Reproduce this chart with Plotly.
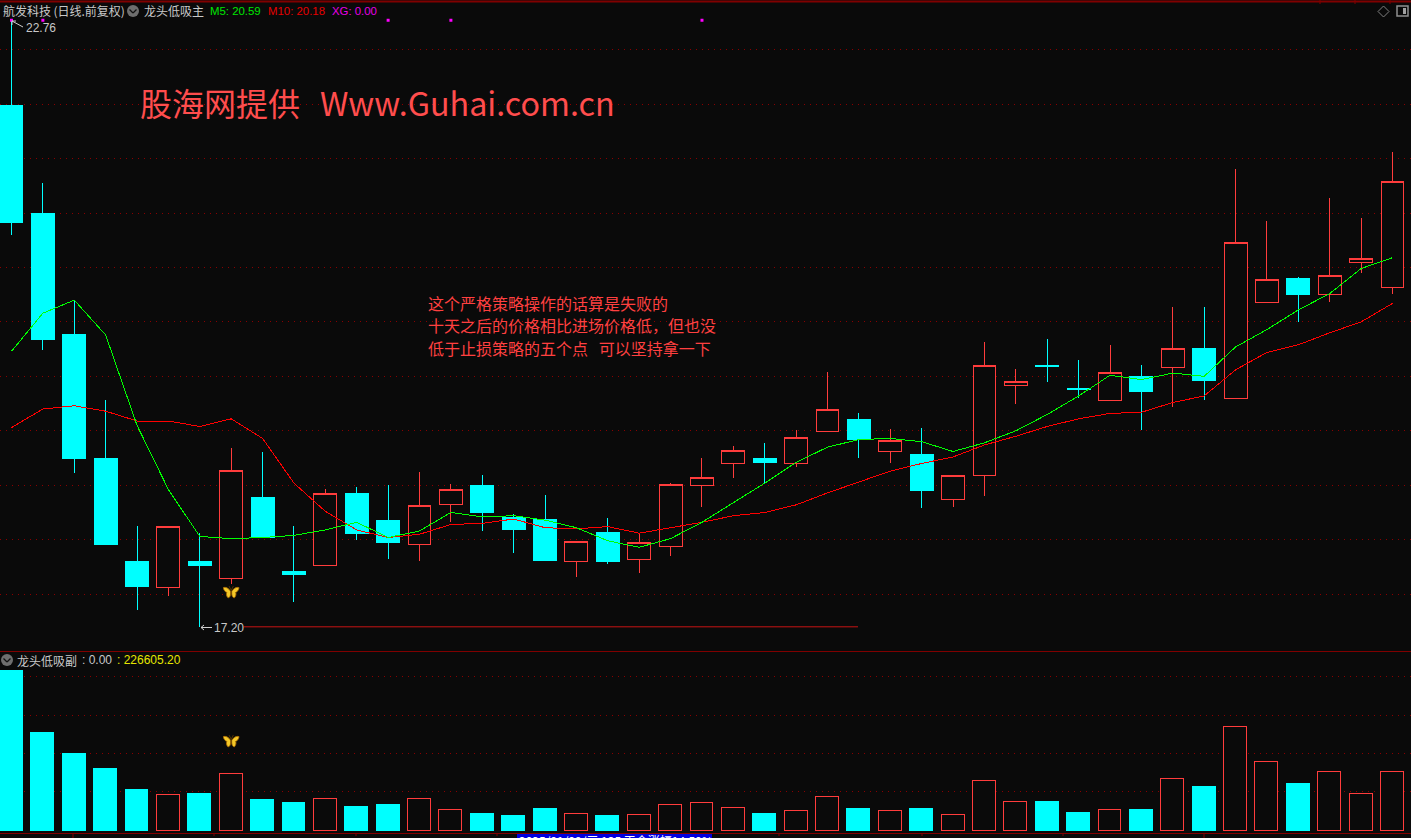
import base64
import plotly.graph_objects as go

# ---------- data ----------
opens = [21.99,21.00,19.88,18.75,17.80,17.56,17.80,17.64,18.39,17.71,17.76,18.42,18.18,17.96,18.32,18.50,18.20,18.19,17.80,18.07,17.82,17.94,18.50,18.70,18.75,18.70,18.99,19.10,18.81,18.78,18.37,18.59,19.42,19.60,19.39,19.28,19.50,19.58,19.76,19.30,20.18,20.40,20.25,20.55,20.32]
closes = [20.91,19.84,18.75,17.96,17.57,18.12,17.76,18.64,18.02,17.68,18.42,18.06,17.97,18.31,18.46,18.25,18.09,17.81,17.98,17.80,17.97,18.51,18.57,18.82,18.71,18.94,19.20,18.92,18.91,18.45,18.59,19.60,19.45,19.59,19.38,19.54,19.36,19.76,19.46,20.73,20.39,20.25,20.43,20.58,21.29]
highs = [22.76,21.28,20.20,19.28,18.13,18.12,18.06,18.84,18.81,18.13,18.47,18.48,18.50,18.62,18.51,18.59,18.24,18.41,17.99,18.20,18.06,18.52,18.75,18.86,18.89,19.01,19.54,19.16,19.02,19.03,18.59,19.82,19.57,19.84,19.65,19.79,19.60,20.14,20.14,21.40,20.93,20.41,21.14,20.95,21.56]
lows = [20.80,19.74,18.61,17.96,17.35,17.48,17.20,17.59,18.02,17.43,17.76,18.00,17.82,17.80,18.16,18.08,17.88,17.81,17.66,17.78,17.69,17.85,18.30,18.57,18.51,18.67,18.99,18.75,18.70,18.29,18.30,18.40,19.25,19.45,19.30,19.28,19.01,19.22,19.28,19.30,20.17,20.00,20.18,20.45,20.26]
ma5 = [19.73,20.08,20.20,19.88,19.05,18.46,18.03,18.01,18.02,18.04,18.09,18.16,18.02,18.08,18.25,18.21,18.22,18.18,18.11,17.99,17.93,18.01,18.16,18.34,18.52,18.71,18.85,18.92,18.93,18.90,18.81,18.89,19.00,19.15,19.32,19.51,19.47,19.53,19.50,19.77,19.93,20.11,20.26,20.49,20.59]
ma10 = [19.03,19.20,19.23,19.18,19.09,19.09,19.04,19.11,18.93,18.52,18.26,18.09,18.02,18.05,18.14,18.15,18.19,18.11,18.10,18.12,18.06,18.11,18.16,18.22,18.25,18.32,18.43,18.53,18.63,18.70,18.76,18.87,18.95,19.04,19.11,19.16,19.17,19.26,19.32,19.56,19.72,19.79,19.90,20.00,20.17]
volume_k = [614.6,376.4,295.8,238.1,157.5,138.3,142.1,218.9,119.1,107.5,122.9,92.2,99.9,122.9,80.7,65.3,57.6,84.5,65.3,57.6,61.5,99.9,107.5,88.3,65.3,76.8,130.6,84.5,76.8,84.5,61.5,192.0,111.4,111.4,69.1,80.7,80.7,199.7,169.0,399.5,265.0,180.5,226.6,142.1,226.6]
vol_up = [0,0,0,0,0,1,0,1,0,0,1,0,0,1,1,0,0,0,1,0,1,1,1,1,0,1,1,0,1,0,1,1,1,0,0,1,0,1,0,1,1,0,1,1,1]
xg_days = [0,1,12,14,22]
xg_level = 22.77
signal_day = 7
signal_price = 17.52
signal_vol = 345.7
price_grid = [22.5,22,21.5,21,20.5,20,19.5,19,18.5,18,17.5]
vol_grid = [150,296,442,592]
high_price = 22.76
low_price = 17.20
low_line_days = [7.38,26.97]
days = list(range(len(opens)))

BG = "#0a0a0a"
RED = "#ff3c3c"
CYAN = "#00ffff"
GRID = "#8a0000"
W, H = 1411, 838
CJK = "Noto Sans CJK SC"
NUM = "Liberation Sans"

BUTTERFLY = """<svg xmlns='http://www.w3.org/2000/svg' viewBox='0 0 32 28'>
<g stroke='#a86a00' stroke-width='1.6' fill='#f4c828'>
<path d='M15,13 C11,7 6,4 1,6 C2,11 5,14 8,15 C6,17 7,22 10,25 C13,25 15,21 15,17 Z'/>
<path d='M17,13 C21,7 26,4 31,6 C30,11 27,14 24,15 C26,17 25,22 22,25 C19,25 17,21 17,17 Z'/>
</g>
<path d='M16,11 L16,20 M16,11 L12,3 M16,11 L20,3' stroke='#6a4300' stroke-width='1.4' fill='none'/>
</svg>"""
BUTTERFLY_URI = "data:image/svg+xml;base64," + base64.b64encode(BUTTERFLY.encode()).decode()


def px(x):
    return x / W


def py(y):
    return 1 - y / H


fig = go.Figure()
fig.add_trace(go.Candlestick(
    x=days, open=opens, high=highs, low=lows, close=closes, whiskerwidth=0,
    increasing=dict(line=dict(color=RED, width=1), fillcolor=BG),
    decreasing=dict(line=dict(color=CYAN, width=1), fillcolor=CYAN),
    hoverinfo="skip", showlegend=False))
fig.add_trace(go.Scatter(x=days, y=ma10, mode="lines", line=dict(color="#ff0000", width=1), hoverinfo="skip", showlegend=False))
fig.add_trace(go.Scatter(x=days, y=ma5, mode="lines", line=dict(color="#00ff00", width=1), hoverinfo="skip", showlegend=False))
fig.add_trace(go.Scatter(x=xg_days, y=[xg_level] * len(xg_days), mode="markers",
                         marker=dict(symbol="square", size=3, color="#ff00ff"), hoverinfo="skip", showlegend=False))
fig.add_trace(go.Bar(
    x=days, y=volume_k, yaxis="y2", width=0.73,
    marker=dict(color=[BG if u else CYAN for u in vol_up],
                line=dict(color=[RED if u else CYAN for u in vol_up], width=1)),
    hoverinfo="skip", showlegend=False))

images = [
    dict(source=BUTTERFLY_URI, xref="x", yref="y", x=signal_day, y=signal_price, sizex=17 / 31.386, sizey=15 / 108.9,
         xanchor="center", yanchor="middle", sizing="stretch", layer="above"),
    dict(source=BUTTERFLY_URI, xref="x", yref="y2", x=signal_day, y=signal_vol, sizex=17 / 31.386, sizey=57.6,
         xanchor="center", yanchor="middle", sizing="stretch", layer="above"),
]

shapes = []


def line(x0, y0, x1, y1, color, width=1):
    shapes.append(dict(type="line", xref="paper", yref="paper", x0=px(x0), x1=px(x1), y0=py(y0), y1=py(y1),
                       line=dict(color=color, width=width)))


line(0, 1.5, W, 1.5, "#800000", 2)
line(0, 651.5, W, 651.5, "#800000", 1)
line(0, 833.5, W, 833.5, "#800000", 1)
for tx in [214, 356, 497, 638, 779, 922, 1063]:
    line(tx, 833, tx, 836, "#800000")
for tx in [73, 1204]:
    line(tx, 833, tx, 838, "#800000")
for tx in [1320, 1355, 1390]:
    line(tx, 0, tx, 4, "#800000")
# low-price guide line
shapes.append(dict(type="line", xref="x", yref="y", x0=low_line_days[0], x1=low_line_days[1], y0=low_price, y1=low_price,
                   line=dict(color="#c81414", width=1)))
# price pointer arrows
line(201, 627.5, 212, 627.5, "#d0d0d0")
line(201, 627.5, 204, 625, "#d0d0d0")
line(201, 627.5, 204, 630, "#d0d0d0")
line(12, 21, 23, 27, "#d0d0d0")
line(12, 21, 16, 21, "#d0d0d0")
line(12, 21, 12, 25, "#d0d0d0")
# blue status box
shapes.append(dict(type="rect", xref="paper", yref="paper", x0=px(517), x1=px(712), y0=py(838), y1=py(834),
                   fillcolor="#0000e0", line=dict(width=0)))


# collapse icons
def icon(cx, cy):
    shapes.append(dict(type="circle", xref="paper", yref="paper", x0=px(cx - 6), x1=px(cx + 6), y0=py(cy + 6), y1=py(cy - 6),
                       fillcolor="#6e6e6e", line=dict(width=0)))
    line(cx - 3.5, cy - 1.5, cx, cy + 2, "#111111", 1.2)
    line(cx, cy + 2, cx + 3.5, cy - 1.5, "#111111", 1.2)


icon(133, 11)
icon(7, 660)
# window icons, top right
line(1383.5, 6, 1389, 11.5, "#808080")
line(1389, 11.5, 1383.5, 17, "#808080")
line(1383.5, 17, 1378, 11.5, "#808080")
line(1378, 11.5, 1383.5, 6, "#808080")
shapes.append(dict(type="rect", xref="paper", yref="paper", x0=px(1397), x1=px(1408), y0=py(16), y1=py(6),
                   fillcolor=BG, line=dict(color="#909090", width=1.5)))
shapes.append(dict(type="rect", xref="paper", yref="paper", x0=px(1403), x1=px(1406), y0=py(14), y1=py(8),
                   fillcolor="#a0a0a0", line=dict(width=0)))

ann = []


def text(x, y, s, color, size, family=CJK, anchor="left"):
    ann.append(dict(xref="paper", yref="paper", x=px(x), y=py(y), text=s, showarrow=False, xanchor=anchor, yanchor="middle",
                    align="left", borderpad=0, font=dict(color=color, size=size, family=family)))


text(2, 11, "航发科技\u2009(日线.前复权)", "#c8c8c8", 12)
text(143, 11, "龙头低吸主", "#c8c8c8", 12)
text(209, 11, "M5: 20.59", "#00e600", 11.4, NUM)
text(267, 11, "M10: 20.18", "#e60000", 11.4, NUM)
text(331, 11, "XG: 0.00", "#e600e6", 11.4, NUM)
text(25, 28, "22.76", "#c8c8c8", 12, NUM)
text(213, 628, "17.20", "#c8c8c8", 12, NUM)
text(16, 660, "龙头低吸副", "#c8c8c8", 12)
text(81, 660, ": 0.00", "#c8c8c8", 12, NUM)
text(116, 660, ": 226605.20", "#e6e600", 12, NUM)
text(139, 102.5, "股海网提供", "#ff4d4d", 32)
text(319, 102.5, "Www.Guhai.com.cn", "#ff4d4d", 32.3)
text(427, 303, "这个严格策略操作的话算是失败的", "#ff4040", 16)
text(427, 325, "十天之后的价格相比进场价格低，但也没", "#ff4040", 16)
text(427, 348, "低于止损策略的五个点\u00a0\u00a0\u00a0可以坚持拿一下", "#ff4040", 16)
text(518, 841, "2025/01/09/三 135 天含涨幅14.50%", "#ffffff", 12)

fig.update_layout(
    width=W, height=H, margin=dict(l=0, r=0, t=0, b=0),
    paper_bgcolor=BG, plot_bgcolor=BG, showlegend=False, boxgap=0.27, boxgroupgap=0, bargap=0,
    hovermode=False, shapes=shapes, annotations=ann, images=images,
    xaxis=dict(range=[-0.366, 44.59], showgrid=False, zeroline=False, showticklabels=False, ticks="",
               showline=False, rangeslider=dict(visible=False), anchor="y", fixedrange=True),
    yaxis=dict(domain=[1 - 651 / H, 1], range=[16.978, 22.956], tickvals=price_grid, showticklabels=False, ticks="",
               gridcolor=GRID, griddash="1px,5px", gridwidth=1, zeroline=False, showline=False, fixedrange=True),
    yaxis2=dict(domain=[5 / H, 186 / H], range=[-7.68, 687.5], tickvals=vol_grid, showticklabels=False, ticks="",
                gridcolor=GRID, griddash="1px,5px", gridwidth=1, zeroline=False, showline=False, anchor="x", fixedrange=True),
)
fig.write_html("out.html", config=dict(displayModeBar=False),
               post_script="""document.body.style.margin='0';document.body.style.overflow='hidden';document.body.style.background='#0a0a0a';
var crisp=function(){document.querySelectorAll('.boxlayer path,.barlayer path,.scatterlayer .js-line').forEach(function(p){p.style.shapeRendering='crispEdges';});};
crisp();setTimeout(crisp,50);""")
